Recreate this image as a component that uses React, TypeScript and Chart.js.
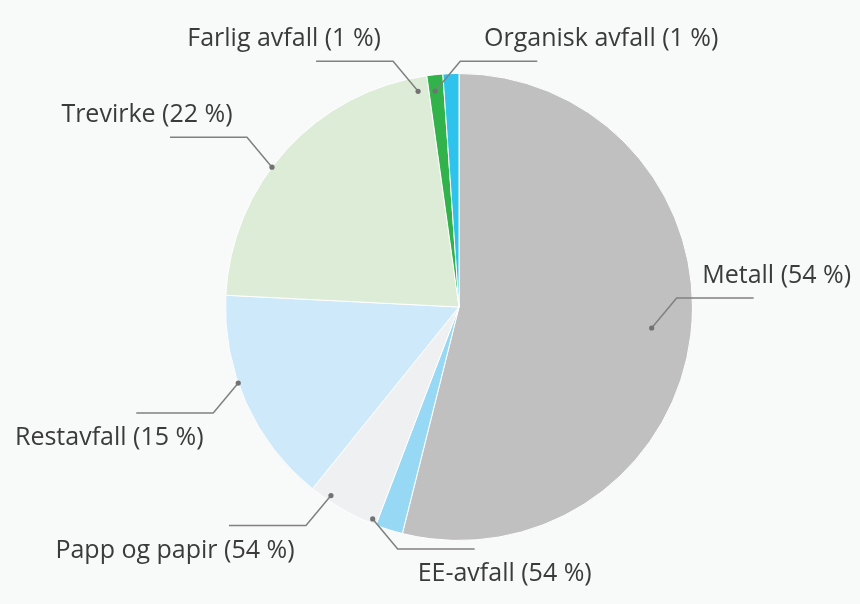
import React, { useEffect, useRef } from "react";
import { Chart, registerables } from "chart.js";

Chart.register(...registerables);

const categories = [
  "Metall",
  "EE-avfall",
  "Papp og papir",
  "Restavfall",
  "Trevirke",
  "Farlig avfall",
  "Organisk avfall",
];
const values = [53.9, 1.9, 5.0, 15.0, 22.0, 1.1, 1.1];
const shownPercents = ["54", "54", "54", "15", "22", "1", "1"];
const colors = ["#c0c0c0", "#97d9f4", "#eff0f2", "#cde9fa", "#ddecd7", "#31b24b", "#2ec3ed"];

// label connector layout: angle offset from slice middle (deg), radius fraction,
// elbow direction, text centre offset from elbow
const LABEL_LAYOUT = [
  { da: -0.8, rf: 0.83, sx: 1, sy: -1, tx: 100 },
  { da: 4.7, rf: 0.98, sx: 1, sy: 1, tx: 107 },
  { da: 4.3, rf: 0.976, sx: -1, sy: 1, tx: -131 },
  { da: 5.1, rf: 1.0, sx: -1, sy: 1, tx: -104 },
  { da: -5.7, rf: 1.0, sx: -1, sy: -1, tx: -100 },
  { da: -4.8, rf: 0.94, sx: -1, sy: -1, tx: -109 },
  { da: -4.3, rf: 0.93, sx: 1, sy: -1, tx: 141 },
];

const FONT = '25px "Open Sans", sans-serif';

const bgPlugin = {
  id: "bg",
  beforeDraw(chart: any) {
    const { ctx, width, height } = chart;
    ctx.save();
    ctx.fillStyle = "#f8f9f9";
    ctx.fillRect(0, 0, width, height);
    ctx.restore();
  },
};

const labelPlugin = {
  id: "pieLabels",
  afterDatasetsDraw(chart: any) {
    const { ctx } = chart;
    const meta = chart.getDatasetMeta(0);
    meta.data.forEach((arc: any, i: number) => {
      const L = LABEL_LAYOUT[i];
      const mid = (arc.startAngle + arc.endAngle) / 2 + (L.da * Math.PI) / 180;
      const r = arc.outerRadius * L.rf;
      const dx = arc.x + Math.cos(mid) * r;
      const dy = arc.y + Math.sin(mid) * r;
      const ex = dx + L.sx * 25;
      const ey = dy + L.sy * 30;
      const lx = ex + L.sx * 77;
      ctx.save();
      ctx.strokeStyle = "#808080";
      ctx.lineWidth = 1.5;
      ctx.beginPath();
      ctx.moveTo(dx, dy);
      ctx.lineTo(ex, ey);
      ctx.lineTo(lx, ey);
      ctx.stroke();
      ctx.fillStyle = "#727272";
      ctx.beginPath();
      ctx.arc(dx, dy, 2.6, 0, Math.PI * 2);
      ctx.fill();
      ctx.font = FONT;
      ctx.fillStyle = "#3b3b3b";
      ctx.textAlign = "center";
      ctx.textBaseline = "alphabetic";
      const text = `${categories[i]} (${shownPercents[i]} %)`;
      const ty = L.sy < 0 ? ey - 15 : ey + 32;
      ctx.fillText(text, ex + L.tx, ty);
      ctx.restore();
    });
  },
};

export default function App() {
  const ref = useRef<HTMLCanvasElement>(null);
  useEffect(() => {
    document.body.style.margin = "0";
    document.body.style.background = "#f8f9f9";
    const chart = new Chart(ref.current!, {
      type: "pie",
      data: {
        labels: categories,
        datasets: [
          {
            data: values,
            backgroundColor: colors,
            borderColor: "#ffffff",
            borderWidth: 1,
          },
        ],
      },
      options: {
        animation: false,
        responsive: false,
        layout: { padding: { left: 225, right: 167, top: 73, bottom: 63 } },
        plugins: {
          legend: { display: false },
          tooltip: { enabled: false },
        },
      },
      plugins: [bgPlugin, labelPlugin],
    });
    return () => chart.destroy();
  }, []);
  return (
    <div style={{ width: 860, height: 604 }}>
      <canvas ref={ref} width={860} height={604} />
    </div>
  );
}
